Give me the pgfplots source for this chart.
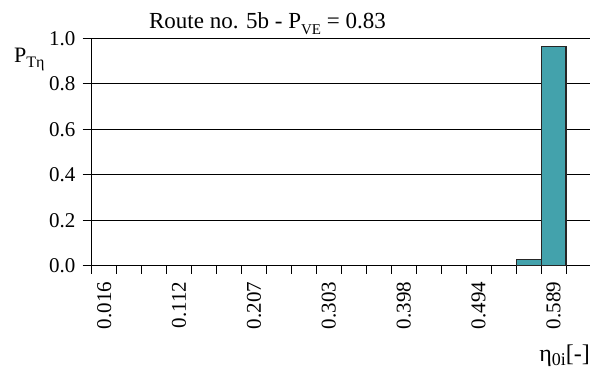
\documentclass[border=0pt]{standalone}
\usepackage{fontspec}
\setmainfont{Liberation Serif}
\usepackage{pgfplots}
\pgfplotsset{compat=1.18}
\definecolor{barfill}{RGB}{67,162,172}
\begin{document}
\fontsize{21}{25}\selectfont
\begin{tikzpicture}
\useasboundingbox (0pt,0pt) rectangle (590pt,374pt);
\begin{axis}[
  at={(91.7pt,108.3pt)}, anchor=south west,
  scale only axis, width=498.3pt, height=227.4pt,
  xmin=-0.5, xmax=19.46, ymin=0, ymax=1,
  axis lines=left, axis line style={-, black, line width=0.9pt},
  clip=false,
  /pgf/number format/assume math mode=true,
  ytick={0,0.2,0.4,0.6,0.8,1.0},
  yticklabel style={/pgf/number format/fixed, /pgf/number format/precision=1, /pgf/number format/fixed zerofill, font=\fontsize{21}{25}\selectfont},
  ymajorgrids, grid style={black, line width=0.8pt},
  xtick={0,3,6,9,12,15,18},
  xticklabels={0.016,0.112,0.207,0.303,0.398,0.494,0.589},
  minor xtick={-0.5,0.5,...,18.5},
  major x tick style={draw=none},
  x tick label style={rotate=90, anchor=east, font=\fontsize{21}{25}\selectfont},
  xtick pos=bottom, ytick pos=left,
  tick align=outside, major tick length=9pt, minor tick length=8pt,
  tick style={black, line width=0.9pt},
]
\addplot[ybar, bar width=1, fill=barfill, draw=black!85, line width=1.1pt]
  coordinates {(17,0.027) (18,0.963)};
\end{axis}
\node[anchor=base, inner sep=0pt] at (267.5pt,345pt) {\fontsize{23}{27}\selectfont Route no. 5b - P\raisebox{-6pt}{\fontsize{15}{15}\selectfont VE} = 0.83};
\node[anchor=base west, inner sep=0pt] at (14pt,311pt) {\fontsize{22}{26}\selectfont P\raisebox{-5pt}{\fontsize{16}{16}\selectfont Tη}};
\node[anchor=base east, inner sep=0pt] at (590pt,12pt) {\fontsize{24}{28}\selectfont η\raisebox{-4pt}{\fontsize{18}{18}\selectfont 0i}[-]};
\end{tikzpicture}
\end{document}
